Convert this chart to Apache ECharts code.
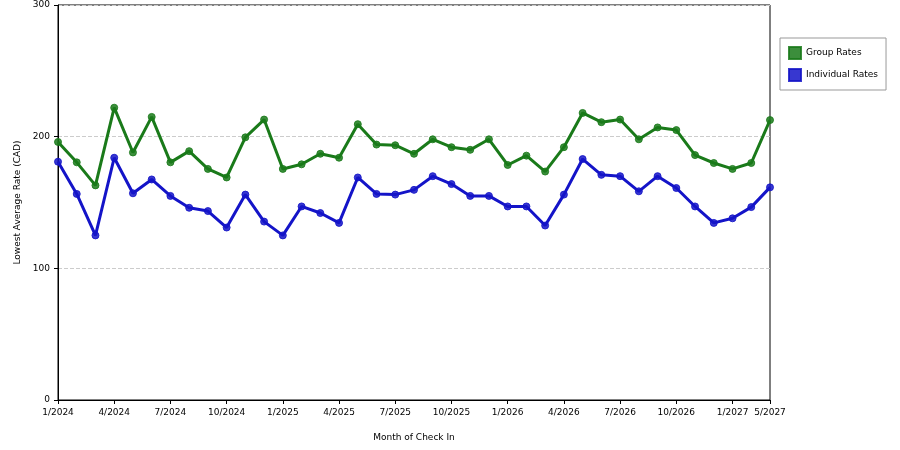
<!DOCTYPE html>
<html><head><meta charset="utf-8">
<script src="https://cdn.jsdelivr.net/npm/echarts@6/dist/echarts.min.js"></script>
<style>html,body{margin:0;padding:0;background:#fff}#c{width:900px;height:450px}</style>
</head><body><div id="c"></div>
<script>
var categories = [];
(function(){var y=2024,m=1;for(var i=0;i<39;i++){categories.push(m+'/'+y);m++;if(m>12){m=1;y++;}}})();
var lastTickLabel = '5/2027';
var groupRates = [196,180.5,163,222,188,215,180.5,189,175.5,169,199.5,213,175.5,179,187,184,209.5,194,193.5,187,198,192,190,198,178.5,185.6,173.5,192,218,211,213,198,207,205,186,180,175.5,180,212.6];
var individualRates = [181,156.5,125,184,157,167.5,155,146,143.5,131,156,135.5,125,147,142,134.5,169,156.5,156,159.6,170,164,155,155,147,147,132.5,156,183,171,170,158.5,170,161,147,134.5,138,146.5,161.5];
var yTicks = [0,100,200,300];
var chart = echarts.init(document.getElementById('c'));
function ser(name, data, color){
  return {name:name,type:'line',data:data,symbol:'circle',symbolSize:7,
    lineStyle:{color:color,width:3},itemStyle:{color:color,borderColor:color,borderWidth:1,opacity:0.85},
    emphasis:{disabled:true},animation:false};
}
chart.setOption({
  animation:false,
  grid:{left:58,right:130,top:5,bottom:50,containLabel:false,show:true,borderColor:'#000',borderWidth:1},
  legend:{orient:'vertical',left:780,top:38,width:108,height:48,padding:[8,8,8,8],
    itemWidth:12,itemHeight:12,itemGap:8,borderColor:'#999',borderWidth:1,
    icon:'rect',textStyle:{fontSize:9,color:'#000',fontFamily:'DejaVu Sans'},
    data:['Group Rates','Individual Rates']},
  xAxis:{type:'category',data:categories,boundaryGap:false,
    name:'Month of Check In',nameLocation:'middle',nameGap:33,
    nameTextStyle:{fontSize:9,color:'#000',fontFamily:'DejaVu Sans'},
    axisLine:{lineStyle:{color:'#000'}},
    axisTick:{show:true,interval:function(i){return i%3===0||i===38;},length:4,lineStyle:{color:'#000'}},
    axisLabel:{interval:function(i){return i%3===0||i===38;},fontSize:9,color:'#000',fontFamily:'DejaVu Sans',
      formatter:function(v,i){return i===38?lastTickLabel:v;}},
    splitLine:{show:false}},
  yAxis:{type:'value',min:yTicks[0],max:yTicks[3],interval:100,
    name:'Lowest Average Rate (CAD)',nameLocation:'middle',nameGap:36,
    nameTextStyle:{fontSize:9,color:'#000',fontFamily:'DejaVu Sans'},
    axisLine:{show:true,lineStyle:{color:'#000'}},
    axisTick:{show:true,length:4,lineStyle:{color:'#000'}},
    axisLabel:{fontSize:9,color:'#000',fontFamily:'DejaVu Sans'},
    splitLine:{show:true,lineStyle:{color:'#ccc',type:'dashed'}}},
  series:[ser('Group Rates',groupRates,'#1a7a1a'),ser('Individual Rates',individualRates,'#1414c8')]
});
</script></body></html>
